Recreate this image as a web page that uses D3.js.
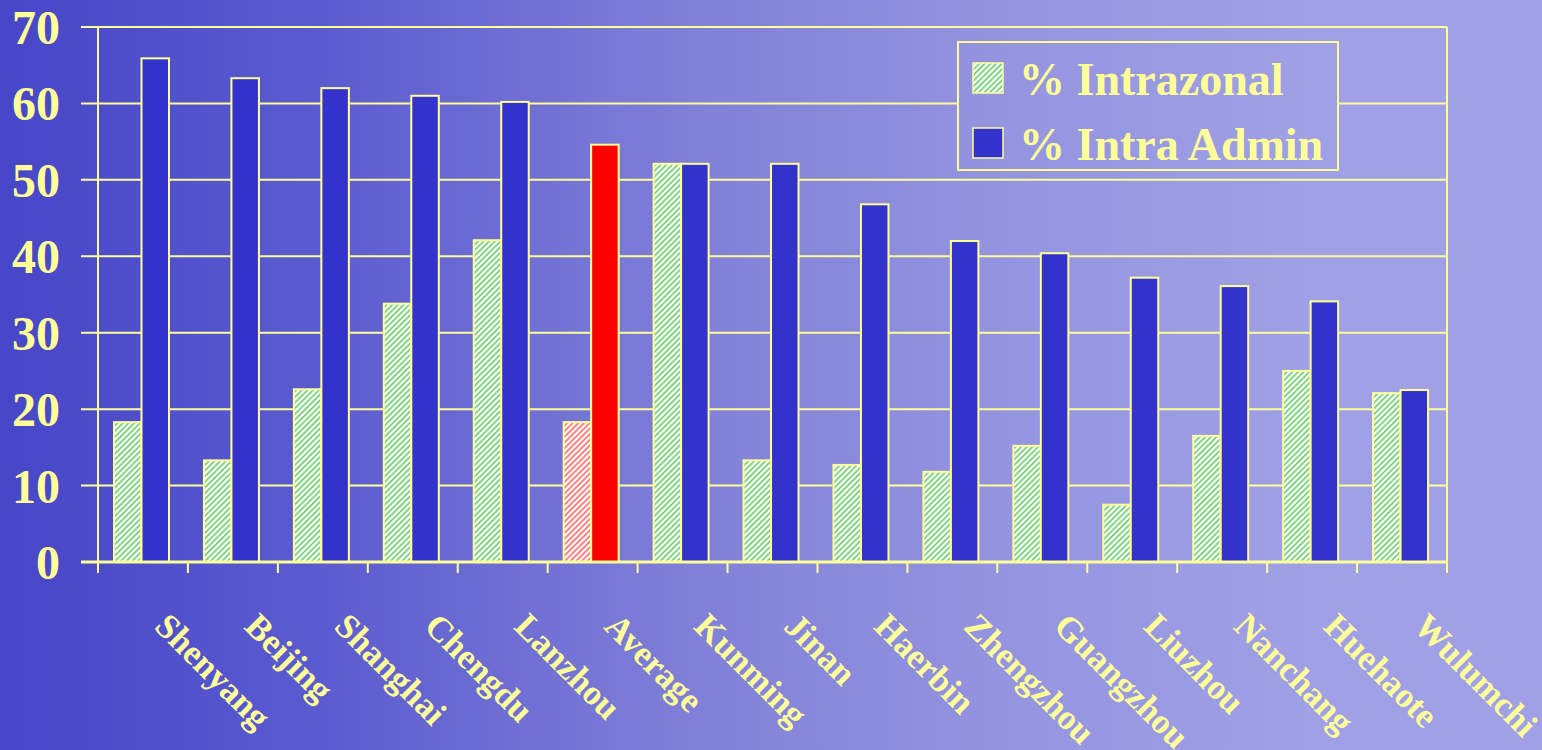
<!DOCTYPE html>
<html>
<head>
<meta charset="utf-8">
<script src="https://cdn.jsdelivr.net/npm/d3@7.9.0/dist/d3.min.js"></script>
<style>
  html, body { margin: 0; padding: 0; overflow: hidden; }
  svg { display: block; }
  text { font-family: "Liberation Serif", "Times New Roman", serif; font-weight: bold; fill: #ffff99; }
</style>
</head>
<body>
<div id="chart"></div>
<script>
const cities = ['Shenyang', 'Beijing', 'Shanghai', 'Chengdu', 'Lanzhou', 'Average', 'Kunming', 'Jinan',
  'Haerbin', 'Zhengzhou', 'Guangzhou', 'Liuzhou', 'Nanchang', 'Huehaote', 'Wulumchi'];
const intrazonal = [18.3, 13.3, 22.6, 33.8, 42.1, 18.3, 52.1, 13.3, 12.7, 11.8, 15.2, 7.5, 16.5, 25.0, 22.1];
const intraAdmin = [65.9, 63.3, 62.0, 61.0, 60.2, 54.6, 52.1, 52.1, 46.8, 42.0, 40.4, 37.2, 36.1, 34.1, 22.5];
const yTicks = [0, 10, 20, 30, 40, 50, 60, 70];
const seriesNames = ['% Intrazonal', '% Intra Admin'];

const width = 1542, height = 750;
const yellow = '#ffff99';

const svg = d3.select('#chart').append('svg')
  .attr('width', width).attr('height', height);

const defs = svg.append('defs');
const grad = defs.append('linearGradient').attr('id', 'bg')
  .attr('gradientUnits', 'userSpaceOnUse')
  .attr('x1', 0).attr('y1', 0).attr('x2', width).attr('y2', 0);
[[0, '#4646c8'], [0.2, '#5a5ad0'], [0.45, '#8080d8'], [0.65, '#9494e0'], [0.85, '#a0a0e6'], [1, '#a0a0e6']]
  .forEach(([o, c]) => grad.append('stop').attr('offset', o).attr('stop-color', c));

function hatch(id, color) {
  const p = defs.append('pattern').attr('id', id)
    .attr('patternUnits', 'userSpaceOnUse')
    .attr('width', 4).attr('height', 4)
    .attr('patternTransform', 'rotate(45)');
  p.append('rect').attr('width', 4).attr('height', 4).attr('fill', '#ffffff');
  p.append('rect').attr('width', 1.6).attr('height', 4).attr('fill', color);
}
hatch('hatchGreen', '#66cc66');
hatch('hatchRed', '#ff6666');

svg.append('rect').attr('width', width).attr('height', height).attr('fill', 'url(#bg)');

const x = d3.scaleBand().domain(cities).range([98, 1447]);
const y = d3.scaleLinear().domain([0, 70]).range([562, 27]);
const inner = d3.scaleBand().domain(['g', 'b']).range([16, 71]);

// gridlines
svg.append('g').selectAll('line')
  .data(yTicks)
  .join('line')
  .attr('x1', 81).attr('x2', 1447)
  .attr('y1', d => y(d)).attr('y2', d => y(d))
  .attr('stroke', yellow).attr('stroke-width', 2);

svg.append('line').attr('x1', 98).attr('x2', 98).attr('y1', y(70)).attr('y2', y(0))
  .attr('stroke', yellow).attr('stroke-width', 2);
svg.append('line').attr('x1', 1447).attr('x2', 1447).attr('y1', y(70)).attr('y2', y(0))
  .attr('stroke', yellow).attr('stroke-width', 2);

// y labels
svg.append('g').selectAll('text')
  .data(yTicks)
  .join('text')
  .attr('x', 60).attr('y', d => y(d) + 17)
  .attr('text-anchor', 'end')
  .style('font-size', '48px')
  .text(d => d);

// bars
const groups = svg.append('g').selectAll('g')
  .data(cities)
  .join('g')
  .attr('transform', d => `translate(${x(d)},0)`);

groups.append('rect')
  .attr('x', inner('g'))
  .attr('width', inner.bandwidth())
  .attr('y', (d, i) => y(intrazonal[i]))
  .attr('height', (d, i) => y(0) - y(intrazonal[i]))
  .attr('fill', d => d === 'Average' ? 'url(#hatchRed)' : 'url(#hatchGreen)')
  .attr('stroke', yellow).attr('stroke-width', 2);

groups.append('rect')
  .attr('x', inner('b'))
  .attr('width', inner.bandwidth())
  .attr('y', (d, i) => y(intraAdmin[i]))
  .attr('height', (d, i) => y(0) - y(intraAdmin[i]))
  .attr('fill', d => d === 'Average' ? '#ff0000' : '#3333cc')
  .attr('stroke', yellow).attr('stroke-width', 2);

// x axis
svg.append('line').attr('x1', 81).attr('x2', 1447).attr('y1', y(0)).attr('y2', y(0))
  .attr('stroke', yellow).attr('stroke-width', 3);
svg.append('g').selectAll('line')
  .data(cities.map(c => x(c)).concat([1447]))
  .join('line')
  .attr('x1', d => d).attr('x2', d => d)
  .attr('y1', y(0)).attr('y2', y(0) + 11)
  .attr('stroke', yellow).attr('stroke-width', 2);

svg.append('g').selectAll('text')
  .data(cities)
  .join('text')
  .attr('transform', d => `translate(${x(d) + x.bandwidth() / 2 + 10},628) rotate(45)`)
  .style('font-size', '35px')
  .text(d => d);

// legend
const lg = svg.append('g');
lg.append('rect').attr('x', 958).attr('y', 42).attr('width', 380).attr('height', 128)
  .attr('fill', 'url(#bg)').attr('stroke', yellow).attr('stroke-width', 2);
const items = lg.selectAll('g')
  .data(seriesNames)
  .join('g')
  .attr('transform', (d, i) => `translate(973,${63 + i * 65})`);
items.append('rect')
  .attr('width', 30).attr('height', 30)
  .attr('fill', (d, i) => i === 0 ? 'url(#hatchGreen)' : '#3333cc')
  .attr('stroke', yellow).attr('stroke-width', 1.5);
items.append('text')
  .attr('x', 46).attr('y', 32)
  .style('font-size', '46px')
  .text(d => d);
</script>
</body>
</html>
